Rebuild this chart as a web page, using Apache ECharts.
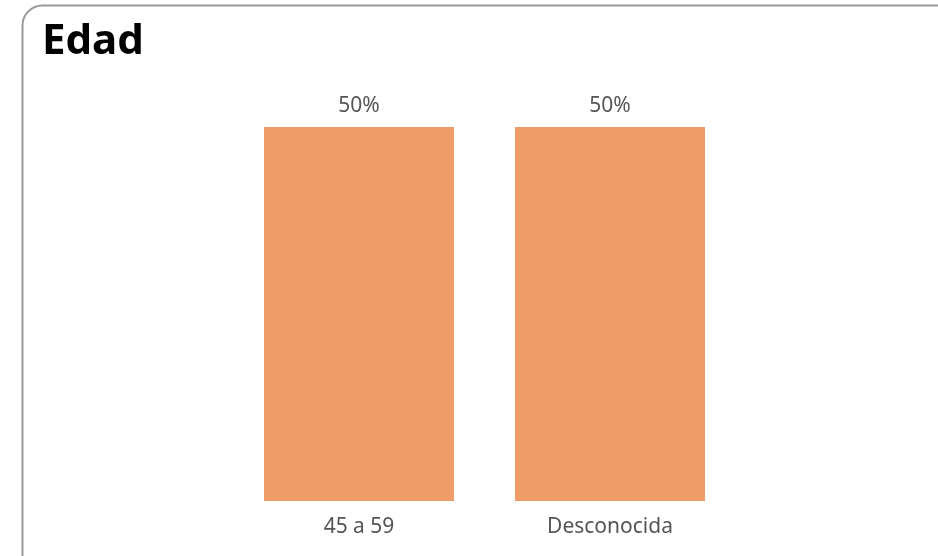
<!DOCTYPE html>
<html><head><meta charset="utf-8">
<script src="https://cdn.jsdelivr.net/npm/echarts@6/dist/echarts.min.js"></script>
<style>html,body{margin:0;padding:0;background:#fff}#c{width:938px;height:556px}</style>
</head><body><div id="c"></div>
<script>
const titleText = "Edad";
const categories = ["45 a 59", "Desconocida"];
const values = [50, 50];

const chart = echarts.init(document.getElementById('c'));
chart.setOption({
  animation: false,
  graphic: [{
    type: 'rect', left: 20, top: 3,
    shape: { width: 960, height: 580, r: 20 },
    style: { fill: 'none', stroke: '#999', lineWidth: 2 }
  }],
  title: {
    text: titleText, left: 37, top: 16,
    textStyle: { fontFamily: 'Noto Sans', fontWeight: 'bold', fontSize: 42, color: '#000' }
  },
  grid: { left: 233.5, right: 938 - 735.5, top: 127, bottom: 556 - 501 },
  xAxis: {
    type: 'category', data: categories,
    axisLine: { show: false }, axisTick: { show: false },
    axisLabel: { fontFamily: 'Noto Sans', fontSize: 21, color: '#555', margin: 16 }
  },
  yAxis: { type: 'value', min: 0, max: 50, show: false },
  series: [{
    type: 'bar', data: values, barWidth: 190,
    itemStyle: { color: '#ee9d68' },
    label: { show: true, position: 'top', distance: 10, formatter: '{c}%',
      fontFamily: 'Noto Sans', fontSize: 21, color: '#555' }
  }]
});
</script></body></html>
